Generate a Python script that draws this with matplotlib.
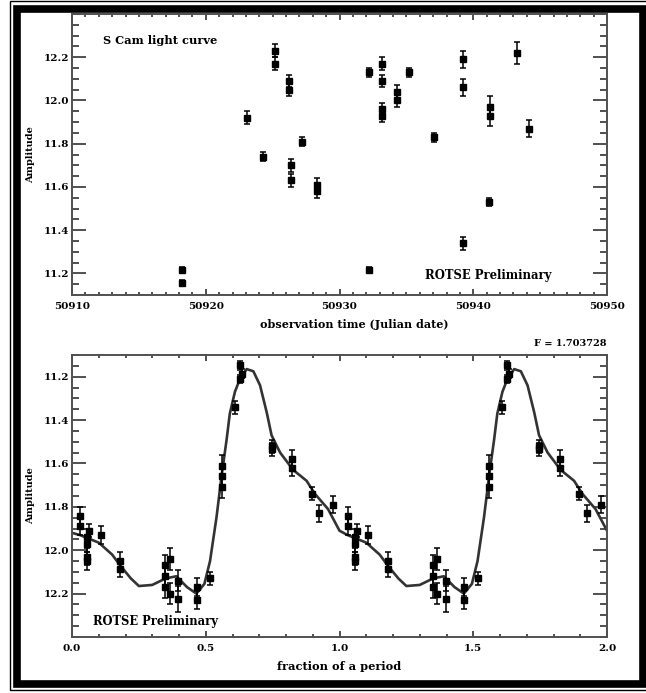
import matplotlib
matplotlib.use("Agg")
import matplotlib.pyplot as plt
from matplotlib.patches import Rectangle
from matplotlib.ticker import MultipleLocator
import numpy as np

# ---------------- data: light curve (top) ----------------
jd = [50918.2, 50918.2, 50923.1, 50924.3, 50925.2, 50925.2, 50926.2, 50926.2,
      50926.35, 50926.35, 50927.2, 50928.3, 50928.3, 50932.2, 50932.2,
      50933.2, 50933.2, 50933.15, 50933.15, 50934.3, 50934.3, 50935.2,
      50937.1, 50939.2, 50939.2, 50939.2, 50941.25, 50941.25, 50941.2,
      50943.3, 50944.2]
mag = [11.215, 11.155, 11.92, 11.74, 12.23, 12.17, 12.09, 12.05,
       11.70, 11.63, 11.81, 11.61, 11.58, 12.13, 11.215,
       12.17, 12.09, 11.96, 11.93, 12.04, 12.00, 12.13,
       11.83, 12.19, 12.06, 11.34, 11.97, 11.93, 11.53,
       12.22, 11.87]
mag_err = [0.015, 0.015, 0.03, 0.02, 0.03, 0.03, 0.03, 0.03,
           0.03, 0.03, 0.02, 0.03, 0.03, 0.02, 0.015,
           0.03, 0.03, 0.03, 0.03, 0.03, 0.03, 0.02,
           0.02, 0.04, 0.04, 0.03, 0.05, 0.05, 0.02,
           0.05, 0.04]

# ---------------- data: folded light curve (bottom) ----------------
phase = [0.03, 0.03, 0.057, 0.057, 0.057, 0.057, 0.065, 0.107, 0.18, 0.18,
         0.348, 0.348, 0.348, 0.366, 0.366, 0.397, 0.397, 0.466, 0.466,
         0.516, 0.56, 0.56, 0.56, 0.609, 0.628, 0.628, 0.634, 0.746, 0.746,
         0.824, 0.824, 0.896, 0.925, 0.977]
fmag = [11.84, 11.89, 11.94, 11.97, 12.03, 12.05, 11.91, 11.93, 12.05, 12.085,
        12.07, 12.12, 12.17, 12.04, 12.20, 12.14, 12.225, 12.17, 12.23,
        12.13, 11.61, 11.66, 11.71, 11.34, 11.147, 11.21, 11.186, 11.52, 11.535,
        11.58, 11.62, 11.74, 11.83, 11.79]
fmag_err = [0.04, 0.04, 0.04, 0.04, 0.04, 0.04, 0.03, 0.04, 0.04, 0.04,
            0.05, 0.05, 0.05, 0.05, 0.05, 0.05, 0.06, 0.04, 0.04,
            0.03, 0.05, 0.05, 0.05, 0.03, 0.02, 0.02, 0.02, 0.03, 0.03,
            0.04, 0.04, 0.03, 0.04, 0.04]

# model curve (one period)
mphase = [0.0, 0.03, 0.05, 0.1, 0.15, 0.18, 0.22, 0.25, 0.3, 0.35, 0.39,
          0.43, 0.465, 0.495, 0.516, 0.54, 0.56, 0.578, 0.59, 0.609, 0.628,
          0.653, 0.678, 0.703, 0.728, 0.746, 0.778, 0.827, 0.877, 0.908,
          0.957, 1.0]
mmag = [11.92, 11.93, 11.94, 11.965, 12.02, 12.07, 12.13, 12.165, 12.16,
        12.13, 12.12, 12.17, 12.2, 12.155, 12.05, 11.85, 11.65, 11.49, 11.37,
        11.27, 11.21, 11.165, 11.175, 11.24, 11.365, 11.47, 11.55, 11.63,
        11.68, 11.74, 11.81, 11.91]

W, H = 646, 693
fig = plt.figure(figsize=(W / 100, H / 100), dpi=100)
fig.patch.set_facecolor("white")

FONT = dict(family="DejaVu Serif", weight="bold")
plt.rcParams["font.family"] = "DejaVu Serif"
plt.rcParams["font.weight"] = "bold"

def pxbox(l, t, r, b):
    return [l / W, 1 - b / H, (r - l) / W, (b - t) / H]

# frame
def frame_rect(l, t, r, b, lw):
    fig.add_artist(Rectangle((l / W, 1 - b / H), (r - l) / W, (b - t) / H,
                             transform=fig.transFigure, fill=False,
                             edgecolor="black", linewidth=lw))
frame_rect(10, 1, 649, 690, 1.0)
frame_rect(17, 9, 643, 684, 5.5)

spc = "#505050"

def style(ax, xmaj, xmin, ymaj, ymin):
    for s in ax.spines.values():
        s.set_color(spc)
        s.set_linewidth(1.4)
    ax.xaxis.set_major_locator(MultipleLocator(xmaj))
    ax.xaxis.set_minor_locator(MultipleLocator(xmin))
    ax.yaxis.set_major_locator(MultipleLocator(ymaj))
    ax.yaxis.set_minor_locator(MultipleLocator(ymin))
    ax.tick_params(axis="x", which="major", direction="in", top=True,
                   length=4, width=1.4, color=spc, labelsize=7.5, pad=5)
    ax.tick_params(axis="x", which="minor", direction="in", top=True,
                   length=2.5, width=1.4, color=spc)
    ax.tick_params(axis="y", which="major", direction="in", right=True,
                   length=10, width=1.4, color=spc, labelsize=7.5, pad=2)
    ax.tick_params(axis="y", which="minor", direction="in", right=True,
                   length=5, width=1.4, color=spc)

# ---------- top panel ----------
ax1 = fig.add_axes(pxbox(72, 14, 607, 295))
ax1.errorbar(jd, mag, yerr=mag_err, fmt="s", color="black", ms=4,
             elinewidth=1.1, capsize=2.2, capthick=1.1)
ax1.set_xlim(50910, 50950)
ax1.set_ylim(11.1, 12.4)
style(ax1, 10, 1, 0.2, 0.05)
ax1.ticklabel_format(useOffset=False, style="plain", axis="x")
ax1.set_xticks([50910, 50920, 50930, 50940, 50950])
ax1.set_yticks([11.2, 11.4, 11.6, 11.8, 12.0, 12.2])
ax1.set_xlabel("observation time (Julian date)", fontsize=8, labelpad=6, **FONT)
ax1.xaxis.set_label_coords((354 - 72) / 535, -0.085)
ax1.set_ylabel("Amplitude", fontsize=7, labelpad=6, **FONT)
ax1.text(0.058, 0.905, "S Cam light curve", transform=ax1.transAxes,
         fontsize=8.2, ha="left", va="center", **FONT)
ax1.text(0.66, 0.07, "ROTSE Preliminary", transform=ax1.transAxes,
         fontsize=8.4, ha="left", va="center", **FONT)

# ---------- bottom panel ----------
ax2 = fig.add_axes(pxbox(72, 355, 607, 637))
ph2 = list(phase) + [p + 1 for p in phase]
fm2 = list(fmag) + list(fmag)
fe2 = list(fmag_err) + list(fmag_err)
mp2 = list(mphase) + [p + 1 for p in mphase[1:]]
mm2 = list(mmag) + list(mmag[1:])
ax2.plot(mp2, mm2, color="#333333", linewidth=1.9)
ax2.errorbar(ph2, fm2, yerr=fe2, fmt="s", color="black", ms=4,
             elinewidth=1.1, capsize=2.2, capthick=1.1)
ax2.set_xlim(0, 2)
ax2.set_ylim(12.4, 11.1)
style(ax2, 0.5, 0.1, 0.2, 0.05)
ax2.set_xticks([0.0, 0.5, 1.0, 1.5, 2.0])
ax2.set_yticks([11.2, 11.4, 11.6, 11.8, 12.0, 12.2])
ax2.set_xlabel("fraction of a period", fontsize=8.2, labelpad=6, **FONT)
ax2.set_ylabel("Amplitude", fontsize=7, labelpad=6, **FONT)
ax2.text(0.04, 0.055, "ROTSE Preliminary", transform=ax2.transAxes,
         fontsize=8.3, ha="left", va="center", **FONT)
ax2.text(1.0, 1.04, "F = 1.703728", transform=ax2.transAxes,
         fontsize=7, ha="right", va="center", **FONT)

for ax in (ax1, ax2):
    for lab in ax.get_xticklabels() + ax.get_yticklabels():
        lab.set_fontweight("bold")

fig.savefig("out.png", dpi=100, facecolor="white")
